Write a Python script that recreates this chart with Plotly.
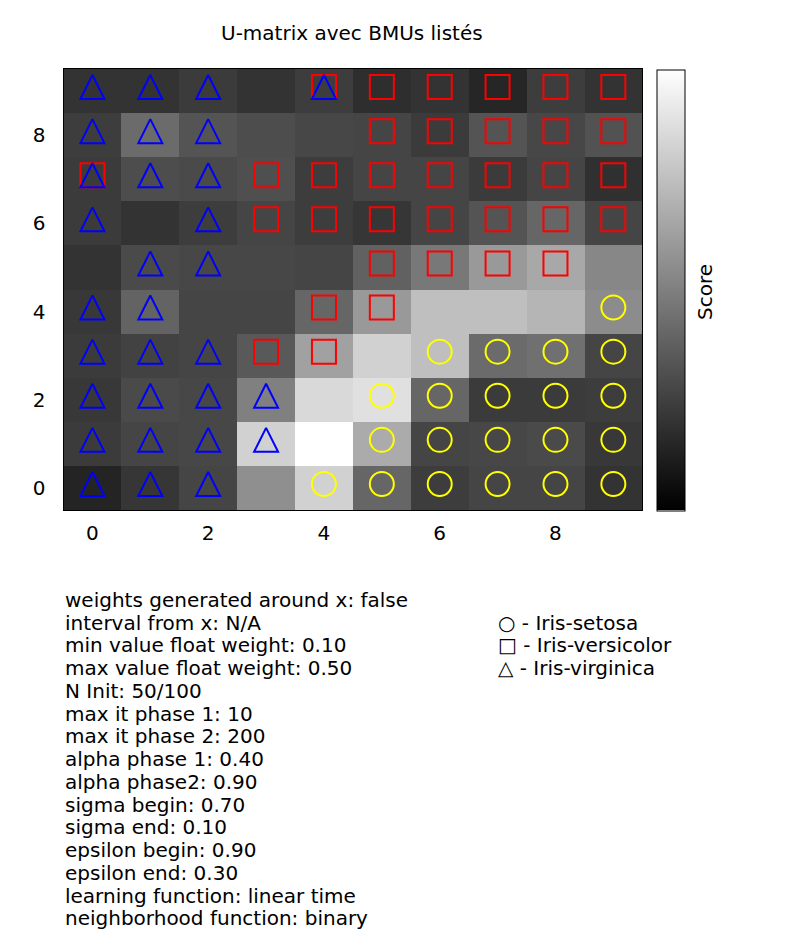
import plotly.graph_objects as go

W, H = 798, 947

# U-matrix scores, rows y = 0 (bottom) .. 9 (top), columns x = 0..9
umatrix = [
    [0.14, 0.21, 0.27, 0.56, 0.82, 0.40, 0.24, 0.27, 0.27, 0.20],
    [0.23, 0.27, 0.28, 0.82, 1.00, 0.67, 0.27, 0.28, 0.29, 0.22],
    [0.22, 0.29, 0.28, 0.50, 0.85, 0.88, 0.40, 0.23, 0.23, 0.24],
    [0.23, 0.26, 0.27, 0.35, 0.63, 0.82, 0.75, 0.42, 0.44, 0.27],
    [0.22, 0.39, 0.27, 0.27, 0.40, 0.60, 0.75, 0.75, 0.71, 0.55],
    [0.20, 0.29, 0.28, 0.28, 0.27, 0.38, 0.47, 0.60, 0.66, 0.53],
    [0.23, 0.20, 0.24, 0.27, 0.24, 0.21, 0.27, 0.33, 0.40, 0.27],
    [0.23, 0.30, 0.29, 0.31, 0.24, 0.27, 0.27, 0.23, 0.27, 0.19],
    [0.24, 0.42, 0.33, 0.30, 0.28, 0.27, 0.23, 0.33, 0.28, 0.32],
    [0.20, 0.20, 0.23, 0.20, 0.24, 0.18, 0.20, 0.15, 0.24, 0.20],
]
grid_x = list(range(10))
grid_y = list(range(10))

# BMU positions per class
setosa_x = [9, 6, 7, 8, 9, 5, 6, 7, 8, 9, 5, 6, 7, 8, 9, 4, 5, 6, 7, 8, 9]
setosa_y = [4, 3, 3, 3, 3, 2, 2, 2, 2, 2, 1, 1, 1, 1, 1, 0, 0, 0, 0, 0, 0]

versicolor_x = [4, 5, 6, 7, 8, 9, 5, 6, 7, 8, 9, 0, 3, 4, 5, 6, 7, 8, 9,
                3, 4, 5, 6, 7, 8, 9, 5, 6, 7, 8, 4, 5, 3, 4]
versicolor_y = [9, 9, 9, 9, 9, 9, 8, 8, 8, 8, 8, 7, 7, 7, 7, 7, 7, 7, 7,
                6, 6, 6, 6, 6, 6, 6, 5, 5, 5, 5, 4, 4, 3, 3]

virginica_x = [0, 1, 2, 4, 0, 1, 2, 0, 1, 2, 0, 2, 1, 2, 0, 1, 0, 1, 2,
               0, 1, 2, 3, 0, 1, 2, 3, 0, 1, 2]
virginica_y = [9, 9, 9, 9, 8, 8, 8, 7, 7, 7, 6, 6, 5, 5, 4, 4, 3, 3, 3,
               2, 2, 2, 2, 1, 1, 1, 1, 0, 0, 0]

params = [
    "weights generated around x: false",
    "interval from x: N/A",
    "min value float weight: 0.10",
    "max value float weight: 0.50",
    "N Init: 50/100",
    "max it phase 1: 10",
    "max it phase 2: 200",
    "alpha phase 1: 0.40",
    "alpha phase2: 0.90",
    "sigma begin: 0.70",
    "sigma end: 0.10",
    "epsilon begin: 0.90",
    "epsilon end: 0.30",
    "learning function: linear time",
    "neighborhood function: binary",
]
legend_lines = ["○ - Iris-setosa", "□ - Iris-versicolor", "△ - Iris-virginica"]

FONT = "DejaVu Sans"
FS = 20

def px(x):
    return x / W

def py(y):
    return 1 - y / H

fig = go.Figure()
fig.add_trace(go.Heatmap(
    z=umatrix, x=grid_x, y=grid_y,
    colorscale=[[0, "black"], [1, "white"]], zmin=0, zmax=1,
    colorbar=dict(
        x=px(657), xanchor="left", xpad=0,
        y=py(290), yanchor="middle", ypad=0,
        len=441, lenmode="pixels", thickness=28,
        outlinewidth=1, outlinecolor="black",
        showticklabels=False, ticks="",
    ),
    showscale=True,
))

fig.add_trace(go.Scatter(
    x=setosa_x, y=setosa_y, mode="markers", showlegend=False,
    marker=dict(symbol="circle-open", size=24, color="yellow",
                line=dict(width=2, color="yellow"),
                angle=180, standoff=4),
))
fig.add_trace(go.Scatter(
    x=versicolor_x, y=versicolor_y, mode="markers", showlegend=False,
    marker=dict(symbol="square-open", size=24, color="red",
                line=dict(width=2, color="red"),
                angle=180, standoff=4),
))
fig.add_trace(go.Scatter(
    x=virginica_x, y=virginica_y, mode="markers", showlegend=False,
    marker=dict(symbol="arrow-down-open", size=24, color="blue",
                line=dict(width=2, color="blue"),
                angle=180, standoff=16),
))

annotations = []
annotations.append(dict(
    text="U-matrix avec BMUs listés", x=px(352), y=py(33),
    xref="paper", yref="paper", xanchor="center", yanchor="middle",
    showarrow=False, font=dict(family=FONT, size=FS, color="black"),
))
annotations.append(dict(
    text="Score", x=px(705), y=py(292), textangle=-90,
    xref="paper", yref="paper", xanchor="center", yanchor="middle",
    showarrow=False, font=dict(family=FONT, size=FS, color="black"),
))
for i, line in enumerate(params):
    annotations.append(dict(
        text=line, x=px(63), y=py(599.8 + 22.75 * i),
        xref="paper", yref="paper", xanchor="left", yanchor="middle",
        showarrow=False, font=dict(family=FONT, size=FS, color="black"),
    ))
for i, line in enumerate(legend_lines):
    annotations.append(dict(
        text=line, x=px(496), y=py(622.5 + 22.75 * i),
        xref="paper", yref="paper", xanchor="left", yanchor="middle",
        showarrow=False, font=dict(family=FONT, size=FS, color="black"),
    ))

fig.update_layout(
    width=W, height=H,
    margin=dict(l=0, r=0, t=0, b=0),
    paper_bgcolor="white", plot_bgcolor="white",
    font=dict(family=FONT, size=FS, color="black"),
    annotations=annotations,
    xaxis=dict(
        domain=[px(63.5), px(642.3)], range=[-0.5, 9.5],
        tickvals=[0, 2, 4, 6, 8], ticks="outside", ticklen=5,
        tickcolor="rgba(0,0,0,0)", showgrid=False, zeroline=False,
        showline=True, mirror=True, linecolor="black", linewidth=1,
        tickfont=dict(family=FONT, size=FS, color="black"),
    ),
    yaxis=dict(
        domain=[py(510), py(69)], range=[-0.5, 9.5],
        tickvals=[0, 2, 4, 6, 8], ticks="outside", ticklen=13,
        tickcolor="rgba(0,0,0,0)", showgrid=False, zeroline=False,
        showline=True, mirror=True, linecolor="black", linewidth=1,
        tickfont=dict(family=FONT, size=FS, color="black"),
    ),
)

fig.write_html("out.html")
